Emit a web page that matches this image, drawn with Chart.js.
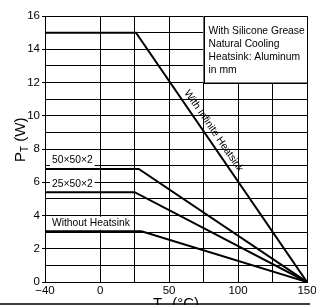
<!DOCTYPE html>
<html>
<head>
<meta charset="utf-8">
<script src="https://cdn.jsdelivr.net/npm/chart.js@4"></script>
<style>
  html, body { margin: 0; padding: 0; background: #fff; }
  #wrap { width: 316px; height: 306px; }
</style>
</head>
<body>
<div id="wrap"><canvas id="derating"></canvas></div>
<script>
// series: name, power on the flat part, temperature where derating starts
const seriesNames = ["With Infinite Heatsink", "50×50×2", "25×50×2", "Without Heatsink"];
const flatPower = [15, 6.8, 5.4, 3.05];
const kneeTemp = [26, 28, 25, 30];
const tempMin = -40;
const tempMax = 150;
// x grid lines and which of them get a label
const xGrid = [-40, 0, 25, 50, 75, 100, 125, 150];
const xLabels = [-40, 0, 50, 100, 150];
const noteLines = ["With Silicone Grease", "Natural Cooling", "Heatsink: Aluminum", "in mm"];

const FONT = "'Liberation Sans', Arial, sans-serif";

const datasets = seriesNames.map((name, i) => ({
  label: name,
  data: [
    { x: tempMin, y: flatPower[i] },
    { x: kneeTemp[i], y: flatPower[i] },
    { x: tempMax, y: 0 }
  ],
  borderColor: "#000",
  borderWidth: 2,
  pointRadius: 0,
  fill: false,
  tension: 0
}));

// white note box + series labels, drawn under the lines
const annotations = {
  id: "annotations",
  beforeDatasetsDraw(chart) {
    const { ctx, scales: { x, y } } = chart;
    ctx.save();
    // note box in the top right corner
    const bx = x.getPixelForValue(75), by = y.getPixelForValue(16);
    const bx2 = x.getPixelForValue(150), by2 = y.getPixelForValue(12);
    ctx.fillStyle = "#fff";
    ctx.fillRect(bx, by, bx2 - bx, by2 - by);
    ctx.strokeStyle = "#000";
    ctx.lineWidth = 1;
    ctx.strokeRect(Math.round(bx) + 0.5, Math.round(by) + 0.5, Math.round(bx2 - bx), Math.round(by2 - by));
    ctx.fillStyle = "#000";
    ctx.font = "10.3px " + FONT;
    ctx.textBaseline = "middle";
    noteLines.forEach((t, i) => ctx.fillText(t, bx + 5, by + 15 + i * 13.2));

    // series labels on the left
    for (let i = 1; i < seriesNames.length; i++) {
      const ly = y.getPixelForValue(flatPower[i]) - 8.5;
      const lx = x.getPixelForValue(tempMin) + 7;
      const w = ctx.measureText(seriesNames[i]).width;
      ctx.fillStyle = "#fff";
      ctx.fillRect(lx - 2, ly - 6, w + 4, 13);
      ctx.fillStyle = "#000";
      ctx.fillText(seriesNames[i], lx, ly);
    }

    // rotated label along the infinite heatsink line
    const p1x = x.getPixelForValue(kneeTemp[0]), p1y = y.getPixelForValue(flatPower[0]);
    const p2x = x.getPixelForValue(tempMax), p2y = y.getPixelForValue(0);
    const ang = Math.atan2(p2y - p1y, p2x - p1x);
    const mx = x.getPixelForValue(77.5), my = y.getPixelForValue(8.8);
    ctx.translate(mx, my);
    ctx.rotate(ang);
    ctx.textAlign = "center";
    ctx.textBaseline = "bottom";
    ctx.fillText(seriesNames[0], 0, -3);
    ctx.restore();
  },
  afterDraw(chart) {
    const { ctx } = chart;
    ctx.save();
    ctx.fillStyle = "#000";
    // y title: P_T (W)
    ctx.translate(25, 162);
    ctx.rotate(-Math.PI / 2);
    ctx.textBaseline = "alphabetic";
    ctx.font = "15px " + FONT;
    ctx.fillText("P", 0, 0);
    let off = ctx.measureText("P").width;
    ctx.font = "10px " + FONT;
    ctx.fillText("T", off, 3);
    off += ctx.measureText("T").width;
    ctx.font = "15px " + FONT;
    ctx.fillText(" (W)", off, 0);
    ctx.restore();

    ctx.save();
    ctx.fillStyle = "#000";
    // x title: T_a (°C), cut off by the bottom rule
    let tx = 153;
    const ty = 308;
    ctx.font = "15px " + FONT;
    ctx.fillText("T", tx, ty);
    tx += ctx.measureText("T").width;
    ctx.font = "10.5px " + FONT;
    ctx.fillText("a", tx, ty + 3);
    tx += ctx.measureText("a").width;
    ctx.font = "15px " + FONT;
    ctx.fillText(" (°C)", tx, ty);
    // bottom rule
    ctx.fillStyle = "#fff";
    ctx.fillRect(0, 305, 316, 1);
    ctx.strokeStyle = "#000";
    ctx.lineWidth = 1.5;
    ctx.beginPath();
    ctx.moveTo(0, 304);
    ctx.lineTo(310, 304);
    ctx.stroke();
    ctx.restore();
  }
};

new Chart(document.getElementById("derating"), {
  type: "line",
  data: { datasets: datasets },
  plugins: [annotations],
  options: {
    responsive: true,
    maintainAspectRatio: false,
    animation: false,
    layout: { padding: { top: 16, right: 9, left: 0, bottom: 0 } },
    plugins: { legend: { display: false }, tooltip: { enabled: false } },
    scales: {
      x: {
        type: "linear",
        min: tempMin,
        max: tempMax,
        afterBuildTicks: (s) => { s.ticks = xGrid.map(v => ({ value: v })); },
        afterFit: (s) => { s.height = 24; s.paddingLeft = 0; s.paddingRight = 0; },
        grid: { color: "#000", lineWidth: 1, drawTicks: false },
        border: { color: "#000", width: 1 },
        ticks: {
          autoSkip: false,
          maxRotation: 0,
          padding: 2,
          color: "#000",
          font: { family: FONT, size: 11.5 },
          callback: (v) => xLabels.includes(v) ? (v < 0 ? "\u2212" + Math.abs(v) : String(v)) : ""
        }
      },
      y: {
        min: 0,
        max: 16,
        afterFit: (s) => { s.width = 45; s.paddingTop = 0; s.paddingBottom = 0; },
        grid: {
          color: "#000",
          lineWidth: 1,
          tickLength: 3,
          tickColor: (c) => (c.tick && c.tick.value % 2 === 0) ? "#000" : "rgba(0,0,0,0)"
        },
        border: { color: "#000", width: 1 },
        ticks: {
          stepSize: 1,
          autoSkip: false,
          padding: 2,
          color: "#000",
          font: { family: FONT, size: 11.5 },
          callback: (v) => v % 2 === 0 ? String(v) : ""
        }
      }
    }
  }
});
</script>
</body>
</html>
